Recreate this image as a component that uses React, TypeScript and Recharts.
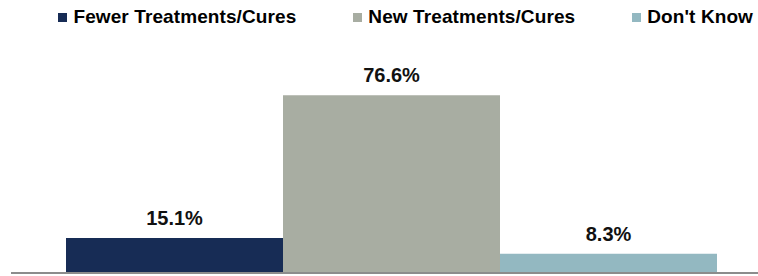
import React from 'react';
import { BarChart, Bar, XAxis, YAxis, Legend, LabelList } from 'recharts';

const categories = ['Outlook'];
const seriesNames = ['Fewer Treatments/Cures', 'New Treatments/Cures', "Don't Know"];
const seriesValues = [15.1, 76.6, 8.3];
const COLORS = ['#172c55', '#a8ada2', '#93b8c1'];

const data = categories.map(c => {
  const row: Record<string, string | number> = { name: c };
  seriesNames.forEach((s, i) => { row[s] = seriesValues[i]; });
  return row;
});

const FONT = '"Liberation Sans", Arial, sans-serif';

// keep legend in series order (recharts sorts by value otherwise)
const renderLegend = (props: any) => {
  const payload = [...(props.payload || [])].sort(
    (a: any, b: any) => seriesNames.indexOf(a.value) - seriesNames.indexOf(b.value)
  );
  return (
    <div style={{ display: 'flex', justifyContent: 'flex-end', paddingRight: 5, gap: 57, fontFamily: FONT, fontWeight: 700, fontSize: 19, letterSpacing: 0.1, color: '#000', height: 26, alignItems: 'center' }}>
      {payload.map((p: any, i: number) => (
        <div key={i} style={{ display: 'flex', alignItems: 'center', gap: 6 }}>
          <span style={{ width: 9, height: 9, background: p.color, display: 'inline-block' }} />
          <span>{p.value}</span>
        </div>
      ))}
    </div>
  );
};

const App: React.FC = () => {
  return (
    <div style={{ position: 'absolute', left: 0, top: 0, background: '#fff' }}>
      <BarChart
        width={758}
        height={276}
        data={data}
        margin={{ top: 15, right: 0, bottom: 0, left: 11 }}
        barGap={0}
        barCategoryGap={41}
      >
        <XAxis
          dataKey="name"
          tick={false}
          tickLine={false}
          height={3}
          axisLine={{ stroke: '#8c8c8c', strokeWidth: 2 }}
          padding={{ left: 14, right: 0 }}
        />
        <YAxis hide domain={[0, 100]} />
        <Legend verticalAlign="top" align="right" content={renderLegend} wrapperStyle={{ top: 4, left: 0, width: 758 }} />
        {seriesNames.map((s, i) => (
          <Bar key={s} dataKey={s} fill={COLORS[i]} isAnimationActive={false}>
            <LabelList
              dataKey={s}
              position="top"
              offset={13}
              formatter={(v: any) => `${Number(v).toFixed(1)}%`}
              style={{ fontFamily: FONT, fontWeight: 700, fontSize: 20, fill: '#111' }}
            />
          </Bar>
        ))}
      </BarChart>
    </div>
  );
};

export default App;
